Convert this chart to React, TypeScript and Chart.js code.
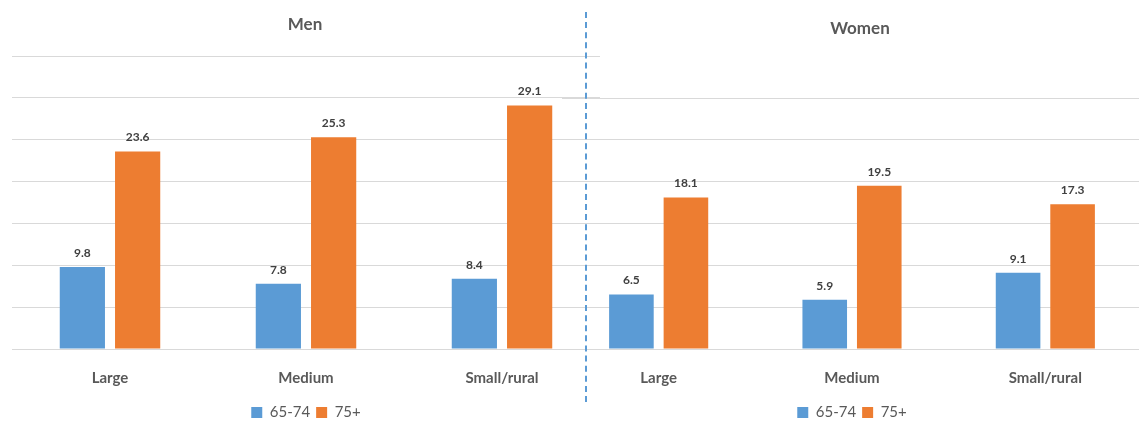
import React, { useEffect, useRef } from "react";
import { Chart, registerables } from "chart.js";
Chart.register(...registerables);

const categories = ["Large", "Medium", "Small/rural"];
const menYoung = [9.8, 7.8, 8.4];
const menOld = [23.6, 25.3, 29.1];
const womenYoung = [6.5, 5.9, 9.1];
const womenOld = [18.1, 19.5, 17.3];
const seriesNames = ["65-74", "75+"];
const BLUE = "#5b9bd5";
const ORANGE = "#ed7d31";
const FONT = "Lato, 'Open Sans', sans-serif";

const labelPlugin = {
  id: "vals",
  afterDatasetsDraw(chart: any) {
    const ctx = chart.ctx;
    ctx.save();
    ctx.font = `bold 12px ${FONT}`;
    ctx.fillStyle = "#404040";
    ctx.textAlign = "center";
    ctx.textBaseline = "bottom";
    chart.data.datasets.forEach((ds: any, i: number) => {
      chart.getDatasetMeta(i).data.forEach((el: any, j: number) => {
        ctx.fillText(ds.data[j].toFixed(1), el.x, el.y - 8);
      });
    });
    ctx.restore();
  },
};

function Panel({ young, old, max, top, left, width }: any) {
  const ref = useRef<HTMLCanvasElement>(null);
  useEffect(() => {
    const c = new Chart(ref.current!, {
      type: "bar",
      data: {
        labels: categories,
        datasets: [
          { label: seriesNames[0], data: young, backgroundColor: BLUE, categoryPercentage: 0.564, barPercentage: 0.818 },
          { label: seriesNames[1], data: old, backgroundColor: ORANGE, categoryPercentage: 0.564, barPercentage: 0.818 },
        ],
      },
      options: {
        animation: false,
        responsive: false,
        layout: { padding: { top, left: 0, right: 0, bottom: 0 } },
        scales: {
          x: {
            grid: { display: false },
            border: { color: "#d9d9d9" },
            ticks: { color: "#595959", font: { family: FONT, size: 15, weight: "bold" }, padding: 12 },
          },
          y: {
            min: 0, max, afterFit: (a: any) => { a.width = 0; },
            ticks: { display: false, stepSize: 5 },
            grid: { color: "#d9d9d9", drawTicks: false },
            border: { display: false },
          },
        },
        plugins: {
          tooltip: { enabled: false },
          legend: {
            position: "bottom",
            labels: { color: "#595959", font: { family: FONT, size: 15 }, boxWidth: 11, boxHeight: 11, padding: 6 },
          },
        },
      },
      plugins: [labelPlugin],
    });
    return () => c.destroy();
  }, []);
  return <canvas ref={ref} width={width} height={430} style={{ position: "absolute", left, top: 0 }} />;
}

export default function App() {
  return (
    <div style={{ position: "fixed", left: 0, top: 0, width: 1139, height: 422, overflow: "hidden", background: "#fff", fontFamily: FONT }}>
      <Panel young={menYoung} old={menOld} max={35} top={56} left={12} width={588} />
      <Panel young={womenYoung} old={womenOld} max={30} top={98} left={562} width={580} />
      <div style={{ position: "absolute", left: 250, width: 110, textAlign: "center", top: 13, fontSize: 17, fontWeight: "bold", color: "#595959" }}>Men</div>
      <div style={{ position: "absolute", left: 800, width: 120, textAlign: "center", top: 17, fontSize: 17, fontWeight: "bold", color: "#595959" }}>Women</div>
      <div style={{ position: "absolute", left: 585, top: 12, height: 390, borderLeft: `2px dashed ${BLUE}` }} />
    </div>
  );
}
